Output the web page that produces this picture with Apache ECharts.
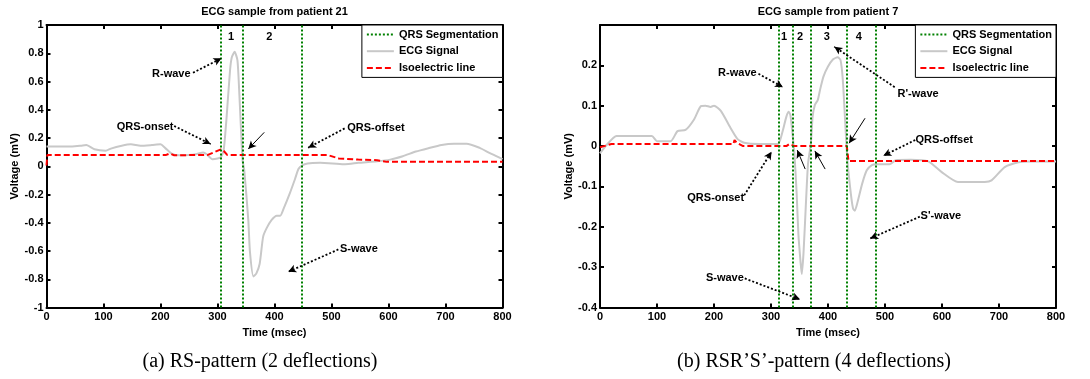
<!DOCTYPE html>
<html>
<head>
<meta charset="utf-8">
<script src="https://cdn.jsdelivr.net/npm/echarts@6/dist/echarts.min.js"></script>
<style>
  html, body { margin: 0; padding: 0; background: #fff; }
  #chart { width: 1090px; height: 379px; }
</style>
</head>
<body>
<div id="chart"></div>
<script>
// ---- data ----
// (a) patient 21
const leftEcgTime = [0, 20, 45, 60, 70, 84, 104, 113, 132, 148, 165, 185, 200, 208, 221, 233, 250, 262, 275, 281, 291, 300, 306, 311, 316, 322, 325, 330, 335, 338, 341, 344, 347, 354, 357, 363, 368, 374, 380, 386, 395, 404, 410, 416, 427, 436, 442, 448, 458, 480, 502, 524, 547, 580, 603, 625, 648, 670, 693, 715, 737, 760, 777, 790, 800];
const leftEcg = [0.14, 0.14, 0.14, 0.145, 0.15, 0.12, 0.11, 0.125, 0.145, 0.155, 0.145, 0.15, 0.155, 0.13, 0.085, 0.078, 0.08, 0.085, 0.097, 0.085, 0.05, 0.055, 0.065, 0.12, 0.35, 0.68, 0.77, 0.81, 0.75, 0.54, 0.28, 0.04, -0.03, -0.38, -0.61, -0.78, -0.76, -0.69, -0.5, -0.44, -0.38, -0.35, -0.35, -0.3, -0.19, -0.09, -0.02, 0.005, 0.02, 0.024, 0.02, 0.014, 0.024, 0.035, 0.047, 0.071, 0.104, 0.128, 0.151, 0.16, 0.16, 0.13, 0.095, 0.07, 0.05];
const leftIsoTime = [0, 1.5, 210, 216, 224, 283, 306, 311, 317, 493, 513, 547, 580, 597, 800];
const leftIso = [0.005, 0.08, 0.08, 0.09, 0.078, 0.08, 0.12, 0.108, 0.08, 0.08, 0.055, 0.047, 0.043, 0.031, 0.031];
const leftQrs = [306, 344, 448];
const leftSegNames = ['1', '2'];
const leftSegTime = [324, 391];

// (b) patient 7
const rightEcgTime = [0, 10, 29, 91, 100, 124, 136, 150, 165, 177, 185, 194, 200, 212, 229, 241, 253, 280, 311, 316, 321, 327, 331, 334, 337, 341, 345, 348, 352, 354, 357, 361, 365, 370, 373, 377, 382, 386, 392, 400, 409, 417, 422, 426, 430, 434, 440, 444, 447, 452, 460, 468, 477, 485, 508, 519, 545, 576, 599, 628, 675, 687, 710, 734, 751, 800];
const rightEcg = [-0.018, 0.0, 0.025, 0.025, 0.012, 0.012, 0.037, 0.04, 0.066, 0.099, 0.1, 0.097, 0.1, 0.087, 0.045, 0.018, 0.008, 0.005, 0.005, 0.015, 0.04, 0.073, 0.085, 0.077, 0.04, -0.018, -0.117, -0.217, -0.29, -0.317, -0.266, -0.15, -0.043, 0.007, 0.073, 0.102, 0.114, 0.139, 0.172, 0.197, 0.215, 0.22, 0.213, 0.164, 0.064, -0.035, -0.117, -0.155, -0.16, -0.138, -0.093, -0.06, -0.047, -0.045, -0.045, -0.035, -0.034, -0.038, -0.064, -0.089, -0.089, -0.085, -0.052, -0.04, -0.038, -0.038];
const rightIsoTime = [0, 20, 234, 236, 240, 251, 327, 332, 335, 341, 433, 436, 800];
const rightIso = [-0.003, 0.005, 0.005, 0.015, 0.008, 0, 0, 0.005, 0.005, 0, 0, -0.037, -0.037];
const rightQrs = [314, 339, 370, 433, 484];
const rightSegNames = ['1', '2', '3', '4'];
const rightSegTime = [323, 351, 398, 454];

// annotation arrows: text, text anchor, arrow start, arrow end (data coords)
const leftNotes = [
  { text: 'R-wave', at: [219, 0.653], from: [257, 0.662], to: [307, 0.764] },
  { text: 'QRS-onset', at: [173, 0.28], from: [224, 0.285], to: [288, 0.157] },
  { text: 'QRS-offset', at: [578, 0.273], from: [523, 0.268], to: [459, 0.131] },
  { text: 'S-wave', at: [548, -0.589], from: [512, -0.589], to: [424, -0.747] },
  { text: '', from: [382, 0.24], to: [354, 0.122], solid: true }
];
const rightNotes = [
  { text: 'R-wave', at: [241, 0.182], from: [278, 0.179], to: [321, 0.146] },
  { text: "R'-wave", at: [558, 0.128], from: [517, 0.146], to: [411, 0.246] },
  { text: 'QRS-offset', at: [604, 0.015], from: [553, 0.015], to: [497, -0.024] },
  { text: 'QRS-onset', at: [203, -0.128], from: [253, -0.122], to: [301, -0.014] },
  { text: 'S-wave', at: [219, -0.328], from: [254, -0.328], to: [351, -0.38] },
  { text: "S'-wave", at: [598, -0.173], from: [561, -0.175], to: [474, -0.229] },
  { text: '', from: [465, 0.069], to: [437, 0.007], solid: true },
  { text: '', from: [360, -0.057], to: [346, -0.01], solid: true },
  { text: '', from: [395, -0.057], to: [377, -0.012], solid: true }
];

const seriesNames = ['QRS Segmentation', 'ECG Signal', 'Isoelectric line'];
const titles = ['ECG sample from patient 21', 'ECG sample from patient 7'];
const captions = ['(a) RS-pattern (2 deflections)', '(b) RSR\u2019S\u2019-pattern (4 deflections)'];

// ---- chart ----
const FONT = 'Liberation Sans';
const zip = (xs, ys) => xs.map((x, i) => [x, ys[i]]);

const grids = [
  { left: 46.5, top: 25, width: 456, height: 282.5 },
  { left: 600, top: 25, width: 456, height: 282.5 }
];

const chart = echarts.init(document.getElementById('chart'), null, { renderer: 'canvas' });

function xAxisPair(gridIndex) {
  const base = {
    gridIndex, type: 'value', min: 0, max: 800, interval: 100,
    axisLine: { show: true, onZero: false, lineStyle: { color: '#000', width: 2 } },
    axisTick: { show: true, inside: true, length: 4, lineStyle: { color: '#000', width: 2 } },
    splitLine: { show: false }
  };
  return [
    Object.assign({}, base, {
      position: 'bottom',
      name: 'Time (msec)', nameLocation: 'middle', nameGap: 19,
      nameTextStyle: { fontFamily: FONT, fontWeight: 'bold', fontSize: 11, color: '#000' },
      axisLabel: { margin: 4, fontFamily: FONT, fontWeight: 'bold', fontSize: 11, color: '#000' }
    }),
    Object.assign({}, base, { position: 'top', axisLabel: { show: false } })
  ];
}

function yAxisPair(gridIndex, min, max, interval, hideMax) {
  const base = {
    gridIndex, type: 'value', min, max, interval,
    axisLine: { show: true, onZero: false, lineStyle: { color: '#000', width: 2 } },
    axisTick: { show: true, inside: true, length: 4, lineStyle: { color: '#000', width: 2 } },
    splitLine: { show: false }
  };
  return [
    Object.assign({}, base, {
      position: 'left',
      name: 'Voltage (mV)', nameLocation: 'middle', nameGap: 26, nameRotate: 90,
      nameTextStyle: { fontFamily: FONT, fontWeight: 'bold', fontSize: 11, color: '#000' },
      axisLabel: { margin: 3, showMaxLabel: !hideMax, fontFamily: FONT, fontWeight: 'bold', fontSize: 11, color: '#000' }
    }),
    Object.assign({}, base, { position: 'right', axisLabel: { show: false } })
  ];
}

function chartSeries(axisIndex, ecgT, ecg, isoT, iso, qrs, segNames, segT, segY, notes) {
  const txt = { fontFamily: FONT, fontWeight: 'bold', fontSize: 11, color: '#000' };
  return [
    {
      name: seriesNames[0], type: 'line', xAxisIndex: axisIndex, yAxisIndex: axisIndex,
      data: [], symbol: 'none',
      lineStyle: { color: '#008000', width: 2, type: [2, 2] },
      itemStyle: { color: '#008000' },
      z: 3,
      markLine: {
        silent: true, symbol: ['none', 'none'], animation: false,
        label: { show: false },
        lineStyle: { color: '#008000', width: 2, type: [2, 2] },
        data: qrs.map(x => ({ xAxis: x }))
      },
      markPoint: {
        silent: true, symbol: 'circle', symbolSize: 0, animation: false,
        label: Object.assign({ show: true, position: 'inside', formatter: '{b}' }, txt),
        data: segNames.map((n, i) => ({ name: n, coord: [segT[i], segY] }))
      }
    },
    {
      name: seriesNames[1], type: 'line', xAxisIndex: axisIndex, yAxisIndex: axisIndex,
      data: zip(ecgT, ecg), symbol: 'none', smooth: 0.2,
      lineStyle: { color: '#c8c8c8', width: 2 },
      itemStyle: { color: '#c8c8c8' },
      z: 2
    },
    {
      name: seriesNames[2], type: 'line', xAxisIndex: axisIndex, yAxisIndex: axisIndex,
      data: zip(isoT, iso), symbol: 'none',
      lineStyle: { color: '#ff0000', width: 2, type: [6, 3] },
      itemStyle: { color: '#ff0000' },
      z: 4
    },
    {
      name: 'notes', type: 'line', xAxisIndex: axisIndex, yAxisIndex: axisIndex,
      data: [], symbol: 'none', z: 5,
      markLine: {
        silent: true, symbol: ['none', 'arrow'], symbolSize: [6, 8], animation: false,
        label: { show: false },
        lineStyle: { color: '#000', width: 1.5 },
        data: notes.map(n => [
          { coord: n.from, lineStyle: { color: '#000', width: n.solid ? 1 : 1.8, type: n.solid ? 'solid' : [2, 2] } },
          { coord: n.to }
        ])
      },
      markPoint: {
        silent: true, symbol: 'circle', symbolSize: 0, animation: false,
        label: Object.assign({ show: true, position: 'inside', formatter: '{b}' }, txt),
        data: notes.filter(n => n.text).map(n => ({ name: n.text, coord: n.at }))
      }
    }
  ];
}

function legendFor(rightEdge) {
  return {
    data: seriesNames, orient: 'vertical', right: rightEdge, top: 25,
    padding: [4, 4, 4, 4], itemWidth: 27, itemHeight: 10, itemGap: 5.7,
    backgroundColor: '#fff', borderColor: '#000', borderWidth: 1,
    selectedMode: false,
    itemStyle: { opacity: 0 },
    lineStyle: { width: 2, opacity: 1 },
    textStyle: { fontFamily: FONT, fontWeight: 'bold', fontSize: 11, color: '#000' }
  };
}

const titleStyle = { fontFamily: FONT, fontWeight: 'bold', fontSize: 11, color: '#000' };
const captionStyle = { fontFamily: 'Liberation Serif', fontWeight: 'normal', fontSize: 20, color: '#000' };

const option = {
  animation: false,
  backgroundColor: '#fff',
  title: [
    { text: titles[0], left: 274.5, top: 6, textAlign: 'center', padding: 0, textStyle: titleStyle },
    { text: titles[1], left: 828, top: 6, textAlign: 'center', padding: 0, textStyle: titleStyle },
    { text: captions[0], left: 260, top: 352, textAlign: 'center', padding: 0, textStyle: captionStyle },
    { text: captions[1], left: 814, top: 352, textAlign: 'center', padding: 0, textStyle: captionStyle }
  ],
  legend: [legendFor(1090 - 502.5), legendFor(1090 - 1056)],
  grid: grids,
  xAxis: [...xAxisPair(0), ...xAxisPair(1)],
  yAxis: [...yAxisPair(0, -1, 1, 0.2, false), ...yAxisPair(1, -0.4, 0.3, 0.1, true)],
  series: [
    ...chartSeries(0, leftEcgTime, leftEcg, leftIsoTime, leftIso, leftQrs, leftSegNames, leftSegTime, 0.917, leftNotes),
    ...chartSeries(2, rightEcgTime, rightEcg, rightIsoTime, rightIso, rightQrs, rightSegNames, rightSegTime, 0.27, rightNotes)
  ]
};

chart.setOption(option);
</script>
</body>
</html>
